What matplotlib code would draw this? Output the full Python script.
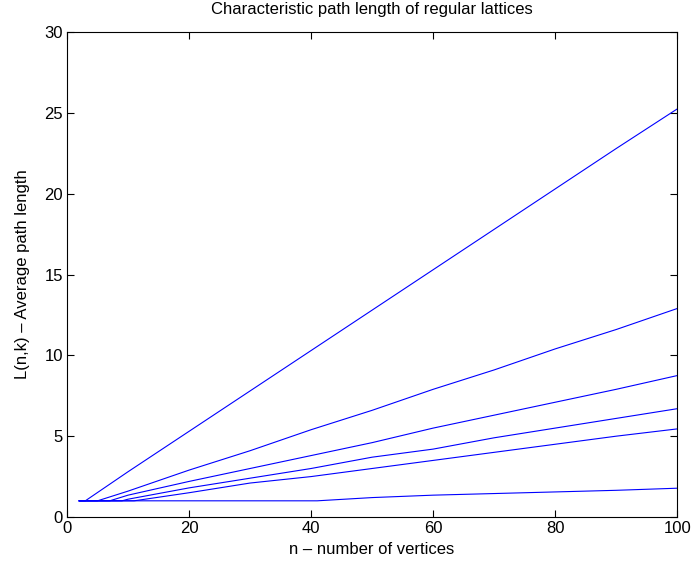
import matplotlib
matplotlib.use('Agg')
import matplotlib.pyplot as plt

plt.rcParams['font.family'] = ['Liberation Sans', 'DejaVu Sans']

# n values and L(n,k), one series per k
n_k2 = [2, 3, 10, 20, 30, 40, 50, 60, 70, 80, 90, 100]
L_k2 = [1, 1, 2.8, 5.3, 7.8, 10.3, 12.8, 15.3, 17.8, 20.3, 22.8, 25.25]

n_k4 = [2, 5, 10, 20, 30, 40, 50, 60, 70, 80, 90, 100]
L_k4 = [1, 1, 1.6, 2.9, 4.1, 5.4, 6.6, 7.9, 9.1, 10.4, 11.6, 12.9]

n_k6 = [2, 7, 10, 20, 30, 40, 50, 60, 70, 80, 90, 100]
L_k6 = [1, 1, 1.35, 2.2, 3.0, 3.8, 4.6, 5.5, 6.3, 7.1, 7.9, 8.75]

n_k8 = [2, 9, 10, 20, 30, 40, 50, 60, 70, 80, 90, 100]
L_k8 = [1, 1, 1.1, 1.8, 2.4, 3.0, 3.7, 4.2, 4.9, 5.5, 6.1, 6.7]

n_k10 = [2, 11, 20, 30, 40, 50, 60, 70, 80, 90, 100]
L_k10 = [1, 1, 1.5, 2.1, 2.5, 3.0, 3.5, 4.0, 4.5, 5.0, 5.45]

n_big = [2, 41, 50, 60, 70, 80, 90, 100]
L_big = [1, 1, 1.2, 1.35, 1.45, 1.55, 1.65, 1.78]

fig = plt.figure(figsize=(6.91, 5.65), dpi=100)
ax = fig.add_axes([0.097, 0.085, 0.883, 0.858])

for n, L in [(n_k2, L_k2), (n_k4, L_k4), (n_k6, L_k6),
             (n_k8, L_k8), (n_k10, L_k10), (n_big, L_big)]:
    ax.plot(n, L, color='blue', linewidth=0.8)

ax.set_xlim(0, 100)
ax.set_ylim(0, 30)
ax.set_xticks([0, 20, 40, 60, 80, 100])
ax.set_yticks([0, 5, 10, 15, 20, 25, 30])
ax.tick_params(direction='in', top=True, right=True, labelsize=12, length=5, pad=3)
for s in ax.spines.values():
    s.set_linewidth(0.8)

ax.set_title('Characteristic path length of regular lattices', fontsize=12, pad=13)
ax.set_xlabel('n \u2013 number of vertices', fontsize=12, labelpad=4)
ax.set_ylabel('L(n,k) \u2013 Average path length', fontsize=12, labelpad=10)

fig.savefig('out.png', dpi=100)
